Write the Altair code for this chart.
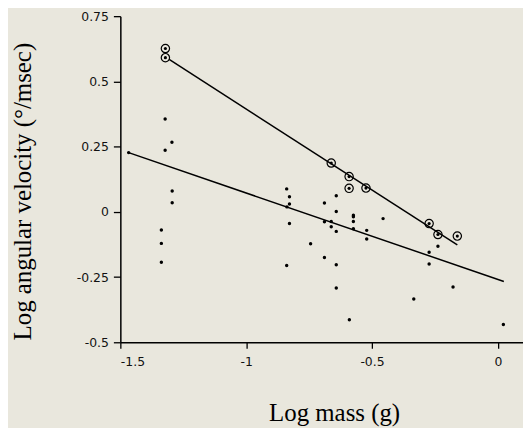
import altair as alt
import pandas as pd

# Circled points (upper group)
circ_x = [-1.321, -1.321, -0.662, -0.591, -0.591, -0.524, -0.273, -0.238, -0.161]
circ_y = [0.626, 0.591, 0.187, 0.135, 0.090, 0.091, -0.045, -0.087, -0.093]

# Plain dots (all data)
dot_x = [-1.467, -1.322, -1.295, -1.322, -1.294, -1.294, -1.337, -1.337, -1.337,
         -0.839, -0.828, -0.828, -0.838, -0.828, -0.839, -0.689, -0.642, -0.642,
         -0.689, -0.662, -0.662, -0.642, -0.744, -0.689, -0.642, -0.642, -0.590,
         -0.574, -0.574, -0.574, -0.574, -0.521, -0.521, -0.456, -0.238, -0.273,
         -0.273, -0.178, -0.334, 0.022]
dot_y = [0.227, 0.356, 0.267, 0.236, 0.080, 0.035, -0.070, -0.121, -0.193,
         0.088, 0.058, 0.030, 0.019, -0.045, -0.206, 0.034, 0.062, 0.001,
         -0.038, -0.037, -0.057, -0.075, -0.122, -0.175, -0.203, -0.292, -0.414,
         -0.013, -0.019, -0.037, -0.065, -0.071, -0.104, -0.026, -0.132, -0.155,
         -0.200, -0.288, -0.334, -0.432]

# Regression lines (endpoints)
upper_x = [-1.306, -0.161]
upper_y = [0.584, -0.127]
lower_x = [-1.467, 0.024]
lower_y = [0.227, -0.267]

x_ticks = [-1.5, -1, -0.5, 0]
y_ticks = [-0.5, -0.25, 0, 0.25, 0.5, 0.75]

circ_df = pd.DataFrame({"x": circ_x, "y": circ_y})
dots_df = pd.DataFrame({"x": dot_x, "y": dot_y})
lines_df = pd.DataFrame({
    "x": upper_x + lower_x,
    "y": upper_y + lower_y,
    "g": ["upper", "upper", "lower", "lower"],
})

xscale = alt.Scale(domain=[-1.5, 0.1], nice=False, zero=False)
yscale = alt.Scale(domain=[-0.5, 0.75], nice=False, zero=False)

xaxis = alt.Axis(
    title="Log mass (g)", values=x_ticks, grid=False,
    labelExpr="toString(datum.value)", tickSize=6, labelPadding=7,
    titleX=215, titleY=79, titleBaseline="alphabetic", titleAnchor="middle",
)
yaxis = alt.Axis(
    title="Log angular velocity (°/msec)", values=y_ticks, grid=False,
    labelExpr="toString(datum.value)", tickSize=7, labelPadding=5,
    titleX=-90, titleY=176, titleBaseline="alphabetic", titleAngle=270,
    titleAlign="center",
)

base_x = alt.X("x:Q", scale=xscale, axis=xaxis)
base_y = alt.Y("y:Q", scale=yscale, axis=yaxis)

lines = alt.Chart(lines_df).mark_line(color="black", strokeWidth=1.5).encode(
    x=base_x, y=base_y, detail="g:N"
)
circles = alt.Chart(circ_df).mark_point(
    shape="circle", filled=False, size=70, color="black", strokeWidth=1.2, opacity=1
).encode(x="x:Q", y="y:Q")
cdots = alt.Chart(circ_df).mark_circle(size=10, color="black", opacity=1).encode(
    x="x:Q", y="y:Q"
)
dots = alt.Chart(dots_df).mark_circle(size=12, color="black", opacity=1).encode(
    x="x:Q", y="y:Q"
)

chart = (
    alt.layer(lines, circles, cdots, dots)
    .properties(
        width=405, height=328,
        autosize=alt.AutoSizeParams(type="none"),
        padding={"left": 113, "top": 7, "right": 0, "bottom": 85},
        background="#e9e7dd",
    )
    .configure_view(stroke=None)
    .configure_axis(
        domainColor="black", domainWidth=1.5, tickColor="black", tickWidth=1.3,
        labelFont="DejaVu Sans", labelFontSize=12.5, labelColor="#111111",
        titleFont="Liberation Serif", titleFontSize=25,
        titleFontWeight="normal", titleColor="black",
    )
)

chart.save("out.html", embed_options={"renderer": "svg", "actions": False})
